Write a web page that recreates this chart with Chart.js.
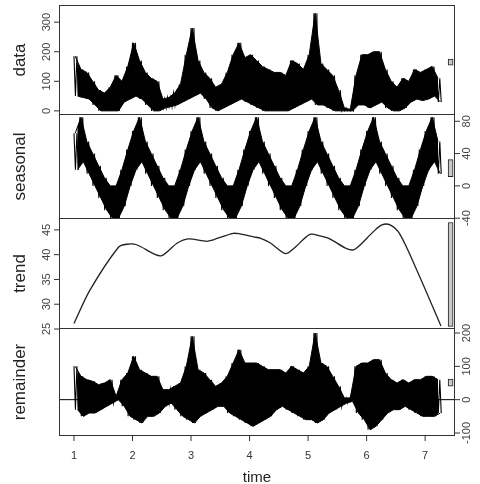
<!DOCTYPE html>
<html>
<head>
<meta charset="utf-8">
<script src="https://cdn.jsdelivr.net/npm/chart.js@4.4.1/dist/chart.umd.min.js"></script>
<style>
  body { margin: 0; background: #fff; }
  .panel { position: absolute; left: 0; width: 480px; }
</style>
</head>
<body>
<div class="panel" style="top:-5px;height:130px"><canvas id="c0"></canvas></div>
<div class="panel" style="top:104px;height:125px"><canvas id="c1"></canvas></div>
<div class="panel" style="top:208px;height:131px"><canvas id="c2"></canvas></div>
<div class="panel" style="top:318px;height:166px"><canvas id="c3"></canvas></div>
<script>
// time starts at 1, one envelope reading (high, low) every 0.1
const tStart = 1;
const tStep = 0.1;

const dataHigh = [185,140,130,100,70,60,80,120,100,150,230,170,130,110,100,40,45,60,90,190,280,170,130,110,80,90,130,190,230,180,190,170,150,140,130,130,120,170,160,140,190,330,160,140,120,70,10,5,120,190,190,200,200,140,100,80,110,100,140,130,140,150,110];
const dataLow  = [50,45,40,20,0,0,0,0,30,40,50,40,20,0,0,10,15,20,30,40,50,60,40,10,0,10,20,30,40,30,20,10,0,0,0,0,0,10,20,30,40,20,20,10,0,0,0,0,20,20,10,20,30,10,0,0,10,30,40,35,40,50,30];

const seasHigh = [65,85,55,40,25,10,0,0,20,45, 68,85,55,40,25,10,0,0,20,45, 68,85,55,40,25,10,0,0,20,45, 68,85,55,40,25,10,0,0,20,45, 68,85,55,40,25,10,0,0,20,45, 68,85,55,40,25,10,0,0,20,45, 68,85,55];
const seasLow  = [20,30,15,0,-15,-30,-40,-40,-25,0, 20,30,15,0,-15,-30,-40,-40,-25,0, 20,30,15,0,-15,-30,-40,-40,-25,0, 20,30,15,0,-15,-30,-40,-40,-25,0, 20,30,15,0,-15,-30,-40,-40,-25,0, 20,30,15,0,-15,-30,-40,-40,-25,0, 20,30,15];

const trendTime  = [1.0,1.27,1.76,1.9,2.07,2.36,2.5,2.76,2.95,3.27,3.38,3.72,3.83,4.07,4.19,4.35,4.61,4.75,5.03,5.2,5.37,5.66,5.8,6.12,6.26,6.4,6.57,6.86,7.27];
const trendValue = [26.1,32.8,41.5,42.1,42.0,40.2,39.8,42.3,43.2,42.7,43.0,44.3,44.2,43.6,43.3,42.4,40.2,41.2,44.1,43.8,43.2,41.2,41.1,44.7,46.0,46.0,44.1,36.8,25.6];

const remHigh = [100,70,60,55,45,50,60,10,60,80,130,90,80,70,70,30,30,40,50,100,190,90,80,60,40,50,70,110,150,110,110,110,100,90,90,90,80,100,90,80,100,200,110,100,70,40,5,5,100,110,110,120,120,80,60,50,60,50,60,60,70,70,60];
const remLow  = [-30,-50,-40,-40,-30,-20,-10,0,-20,-50,-60,-70,-50,-50,-40,-20,-10,-30,-50,-60,-70,-50,-40,-30,-20,-20,-40,-50,-60,-70,-80,-70,-60,-50,-30,-20,-30,-40,-50,-60,-60,-70,-60,-40,-30,-20,-10,-5,-40,-60,-90,-80,-60,-40,-30,-30,-20,-30,-40,-50,-50,-50,-40];

const xTicks = [1,2,3,4,5,6,7];

const xMin = 0.744, xMax = 7.51;

function zigzag(high, low) {
  const pts = [];
  high.forEach((h, i) => {
    const t = tStart + i * tStep;
    pts.push({x: t, y: h}, {x: t + 0.025, y: low[i]}, {x: t + 0.05, y: h}, {x: t + 0.075, y: low[i]});
  });
  return pts;
}

function band(values, shift) {
  return values.map((v, i) => ({x: tStart + i * tStep + shift, y: v}));
}

const panelFrame = {
  id: "panelFrame",
  afterDraw(chart, args, o) {
    const c = chart.ctx, a = chart.chartArea, ys = chart.scales.y, xs = chart.scales.x;
    c.save();
    c.strokeStyle = "#333"; c.lineWidth = 1;
    c.strokeRect(a.left + 0.5, a.top + 0.5, a.right - a.left - 1, a.bottom - a.top - 1);
    c.fillStyle = "#444"; c.font = "11px Arial";
    c.textAlign = "center";
    o.ticks.forEach(v => {
      const y = ys.getPixelForValue(v);
      const x0 = o.side === "left" ? a.left : a.right;
      const d = o.side === "left" ? -5 : 5;
      c.beginPath(); c.moveTo(x0, y); c.lineTo(x0 + d, y); c.stroke();
      c.save();
      c.translate(x0 + (o.side === "left" ? -12 : 12), y);
      c.rotate(-Math.PI / 2);
      c.textBaseline = "middle";
      c.fillText(String(v), 0, 0);
      c.restore();
    });
    c.save();
    c.translate(20, (a.top + a.bottom) / 2);
    c.rotate(-Math.PI / 2);
    c.fillStyle = "#222"; c.font = "17px Arial"; c.textBaseline = "middle";
    c.fillText(o.title, 0, 0);
    c.restore();
    if (o.xAxis) {
      c.textBaseline = "top"; c.fillStyle = "#333"; c.font = "11px Arial";
      xTicks.forEach(v => {
        const x = xs.getPixelForValue(v);
        c.beginPath(); c.moveTo(x, a.bottom); c.lineTo(x, a.bottom + 5); c.stroke();
        c.fillText(String(v), x, a.bottom + 14);
      });
      c.font = "15px Arial"; c.fillStyle = "#222";
      c.fillText("time", (a.left + a.right) / 2, a.bottom + 34);
    }
    c.restore();
  }
};

function makePanel(id, datasets, yMin, yMax, frame, bottomPad) {
  return new Chart(document.getElementById(id), {
    type: "line",
    data: {datasets: datasets},
    plugins: [panelFrame],
    options: {
      animation: false,
      responsive: true,
      maintainAspectRatio: false,
      layout: {padding: {left: 59, right: 25, top: 10, bottom: bottomPad}},
      plugins: {legend: {display: false}, tooltip: {enabled: false}, filler: {propagate: false}, panelFrame: frame},
      scales: {
        x: {type: "linear", min: xMin, max: xMax, offset: false, display: false},
        y: {min: yMin, max: yMax, display: false}
      }
    }
  });
}

// jagged high edge filled down to the jagged low edge, plus the zigzag on top
function noisy(high, low) {
  return [
    {data: band(high, 0.02), borderColor: "#000", borderWidth: 1, pointRadius: 0, tension: 0, fill: 1, backgroundColor: "#000"},
    {data: band(low, 0.06), borderColor: "#000", borderWidth: 1, pointRadius: 0, tension: 0},
    {data: zigzag(high, low), borderColor: "#000", borderWidth: 1.1, pointRadius: 0, tension: 0}
  ];
}

function scaleBar(center) {
  return {type: "bar", data: [{x: 7.435, y: [center - 10.5, center + 10.5]}], backgroundColor: "#c8c8c8",
    borderColor: "#222", borderWidth: 1, borderSkipped: false, barThickness: 5};
}

makePanel("c0", [...noisy(dataHigh, dataLow), scaleBar(165)], -14, 358,
  {title: "data", ticks: [0, 100, 200, 300], side: "left"}, 10);
makePanel("c1", [...noisy(seasHigh, seasLow), scaleBar(22)], -41, 89,
  {title: "seasonal", ticks: [-40, 0, 40, 80], side: "right"}, 10);
makePanel("c2", [{data: trendTime.map((t, i) => ({x: t, y: trendValue[i]})), borderColor: "#222", borderWidth: 1.3, pointRadius: 0, tension: 0.3}, scaleBar(36)],
  25, 47.4, {title: "trend", ticks: [25, 30, 35, 40, 45], side: "left"}, 10);
makePanel("c3", [...noisy(remHigh, remLow), {data: [{x: xMin, y: 0}, {x: xMax, y: 0}], borderColor: "#000", borderWidth: 1, pointRadius: 0}, scaleBar(51)],
  -109, 215, {title: "remainder", ticks: [-100, 0, 100, 200], side: "right", xAxis: true}, 48);
</script>
</body>
</html>
